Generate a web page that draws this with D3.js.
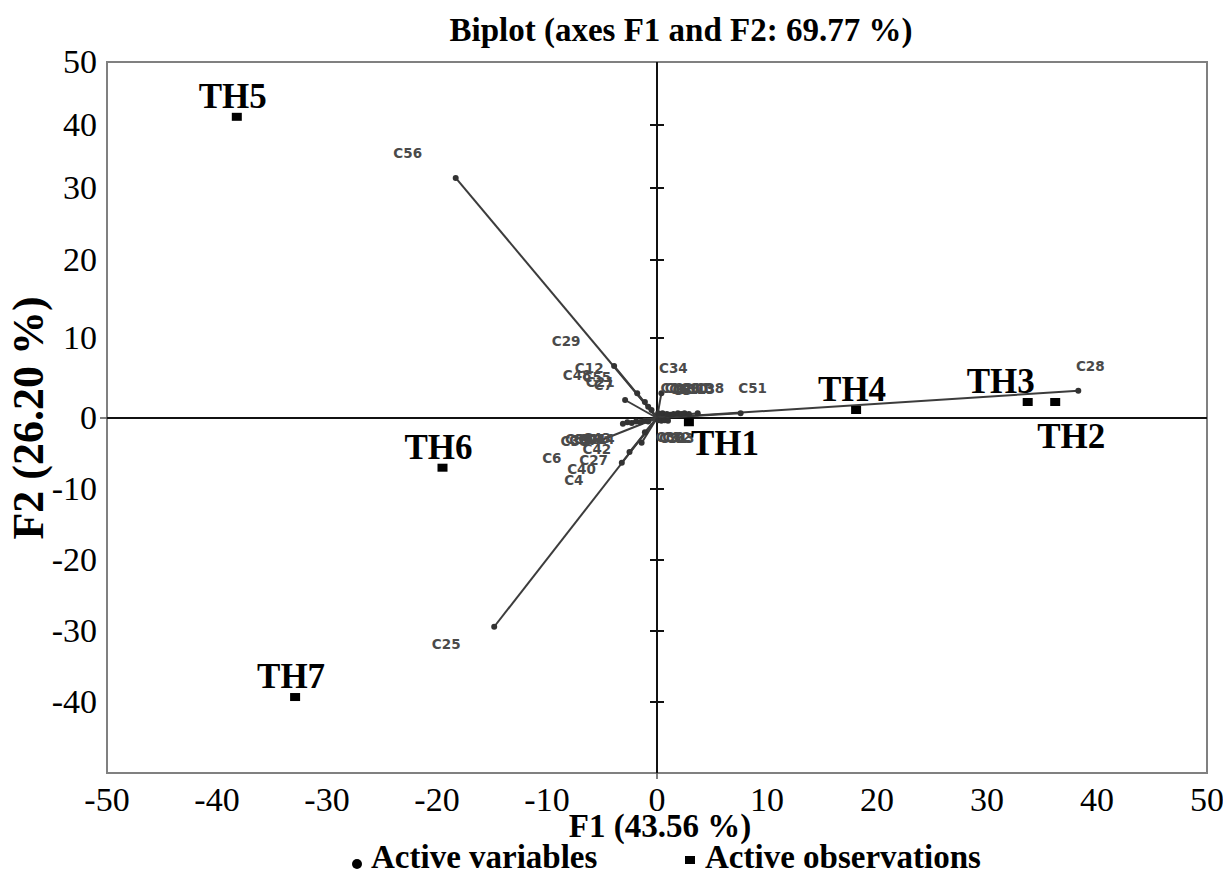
<!DOCTYPE html>
<html>
<head>
<meta charset="utf-8">
<title>Biplot</title>
<script src="https://d3js.org/d3.v7.min.js"></script>
<style>
    body { margin: 0; background: #fff; }
    text { font-family: "Liberation Serif", "Times New Roman", serif; fill: #000; }
    .var-label { font-family: "DejaVu Sans", Verdana, sans-serif; font-weight: bold; font-size: 13.5px; fill: #4a4a4a; }
    .obs-label { font-weight: bold; font-size: 35px; }
</style>
</head>
<body>
<svg id="chart" width="1223" height="875"></svg>

<script>
    // observations (F1, F2 scores)
    const obsNames = ["TH1", "TH2", "TH3", "TH4", "TH5", "TH6", "TH7"];
    const obsF1 = [2.9, 36.2, 33.7, 18.1, -38.2, -19.5, -32.9];
    const obsF2 = [-0.6, 2.0, 2.0, 1.0, 41.3, -7.0, -39.3];

    // variables (loadings, already rescaled to the plot)
    const varNames = ["C56", "C25", "C28", "C51", "C29", "C12", "C48", "C55", "C21", "C7",
        "C34", "C1", "C2", "C3", "C5", "C8", "C9", "C10", "C11", "C13", "C38",
        "C30", "C31", "C32", "C33",
        "C6", "C4", "C40", "C27", "C42", "C35", "C36", "C37", "C39", "C41", "C43", "C44"];
    const varF1 = [-18.3, -14.8, 38.3, 7.6, -3.9, -1.8, -2.9, -1.1, -0.8, -0.5,
        0.4, 0.1, 0.5, 1.2, 0.9, 1.5, 1.9, 2.2, 2.5, 2.9, 3.7,
        0.1, 0.4, 0.7, 1.0,
        -5.2, -3.2, -2.5, -1.4, -1.1, -3.1, -2.7, -2.3, -1.9, -1.5, -1.1, -0.8];
    const varF2 = [31.6, -29.4, 3.4, 0.6, 6.5, 3.1, 2.25, 2.0, 1.4, 1.0,
        3.1, 0.6, 0.6, 0.4, 0.5, 0.5, 0.6, 0.5, 0.6, 0.5, 0.6,
        -0.3, -0.4, -0.3, -0.4,
        -3.2, -6.3, -4.8, -3.5, -2.0, -0.8, -0.6, -0.7, -0.5, -0.6, -0.4, -0.5];

    const xTicks = d3.range(-50, 51, 10);
    const yTicks = d3.range(-50, 51, 10);

    const svg = d3.select("#chart");
    svg.append("rect").attr("width", 1223).attr("height", 875).attr("fill", "#fff");

    const x = d3.scaleLinear().domain([-50, 50]).range([107, 1207]);
    // the printed F2 labels are not evenly spaced in the upper half
    const y = d3.scaleLinear()
        .domain([-50, 0, 10, 20, 30, 40, 50])
        .range([773, 418, 338, 260, 188, 125, 62]);

    // frame
    svg.append("rect")
        .attr("x", x(-50)).attr("y", y(50))
        .attr("width", x(50) - x(-50)).attr("height", y(-50) - y(50))
        .attr("fill", "none").attr("stroke", "#808080").attr("stroke-width", 2);

    // outer tick labels
    svg.append("g").selectAll("text").data(xTicks).join("text")
        .attr("x", d => x(d)).attr("y", 811)
        .attr("text-anchor", "middle").style("font-size", "34px")
        .text(d => d);
    svg.append("g").selectAll("text").data(yTicks.filter(d => d > -50)).join("text")
        .attr("x", 97).attr("y", d => y(d) + 11)
        .attr("text-anchor", "end").style("font-size", "34px")
        .text(d => d);
    svg.append("line").attr("x1", x(-50) - 7).attr("x2", x(-50)).attr("y1", y(0)).attr("y2", y(0))
        .attr("stroke", "#555").attr("stroke-width", 1.5);
    svg.append("line").attr("x1", x(0)).attr("x2", x(0)).attr("y1", y(-50)).attr("y2", y(-50) + 6)
        .attr("stroke", "#555").attr("stroke-width", 1.5);

    // inner axes through the origin
    const axisColor = "#111";
    svg.append("line").attr("x1", x(-50)).attr("x2", x(50)).attr("y1", y(0)).attr("y2", y(0))
        .attr("stroke", axisColor).attr("stroke-width", 2);
    svg.append("line").attr("x1", x(0)).attr("x2", x(0)).attr("y1", y(50)).attr("y2", y(-50))
        .attr("stroke", axisColor).attr("stroke-width", 2);
    svg.append("g").selectAll("line").data(yTicks.filter(d => d != 0 && Math.abs(d) < 50)).join("line")
        .attr("x1", x(0) - 7).attr("x2", x(0) + 7)
        .attr("y1", d => y(d)).attr("y2", d => y(d))
        .attr("stroke", axisColor).attr("stroke-width", 2);

    // variable vectors
    const vars = varNames.map((n, i) => ({name: n, f1: varF1[i], f2: varF2[i]}));
    const vg = svg.append("g");
    vg.selectAll("line").data(vars).join("line")
        .attr("x1", x(0)).attr("y1", y(0))
        .attr("x2", d => x(d.f1)).attr("y2", d => y(d.f2))
        .attr("stroke", "#3c3c3c").attr("stroke-width", 2);
    vg.selectAll("circle").data(vars).join("circle")
        .attr("cx", d => x(d.f1)).attr("cy", d => y(d.f2)).attr("r", 3)
        .attr("fill", "#333");
    vg.selectAll("text").data(vars).join("text")
        .attr("class", "var-label")
        .attr("x", d => x(d.f1) + (d.f1 < 0 ? -48 : 12))
        .attr("y", d => y(d.f2) + (d.f2 >= 0 ? -25 : 17))
        .attr("text-anchor", "middle").attr("dominant-baseline", "central")
        .text(d => d.name);

    // observations
    const obs = obsNames.map((n, i) => ({name: n, f1: obsF1[i], f2: obsF2[i]}));
    const labelPlace = {TH1: "belowRight", TH2: "below", TH3: "aboveLeft"};
    const og = svg.append("g");
    og.selectAll("rect").data(obs).join("rect")
        .attr("x", d => x(d.f1) - 5).attr("y", d => y(d.f2) - 4)
        .attr("width", 10).attr("height", 8).attr("fill", "#000");
    og.selectAll("text").data(obs).join("text")
        .attr("class", "obs-label")
        .attr("x", d => {
            const p = labelPlace[d.name];
            if (p == "belowRight") return x(d.f1) + 2;
            if (p == "below") return x(d.f1) + 16;
            if (p == "aboveLeft") return x(d.f1) - 27;
            return x(d.f1) - 4;
        })
        .attr("y", d => {
            const p = labelPlace[d.name];
            if (p == "belowRight") return y(d.f2) + 33;
            if (p == "below") return y(d.f2) + 46;
            return y(d.f2) - 9;
        })
        .attr("text-anchor", d => labelPlace[d.name] == "belowRight" ? "start" : "middle")
        .text(d => d.name);

    // titles
    svg.append("text").attr("x", 681).attr("y", 41).attr("text-anchor", "middle")
        .style("font-size", "33px").style("font-weight", "bold")
        .text("Biplot (axes F1 and F2: 69.77 %)");
    svg.append("text").attr("x", 660).attr("y", 837).attr("text-anchor", "middle")
        .style("font-size", "33px").style("font-weight", "bold")
        .text("F1 (43.56 %)");
    svg.append("text").attr("transform", "translate(43,418) rotate(-90)").attr("text-anchor", "middle")
        .style("font-size", "44px").style("font-weight", "bold")
        .text("F2 (26.20 %)");

    // legend
    const lg = svg.append("g");
    lg.append("circle").attr("cx", 357).attr("cy", 864).attr("r", 5).attr("fill", "#000");
    lg.append("text").attr("x", 371).attr("y", 868).style("font-size", "33px").style("font-weight", "bold")
        .text("Active variables");
    lg.append("rect").attr("x", 685).attr("y", 856).attr("width", 10).attr("height", 8).attr("fill", "#000");
    lg.append("text").attr("x", 705).attr("y", 868).style("font-size", "33px").style("font-weight", "bold")
        .text("Active observations");
</script>
</body>
</html>
